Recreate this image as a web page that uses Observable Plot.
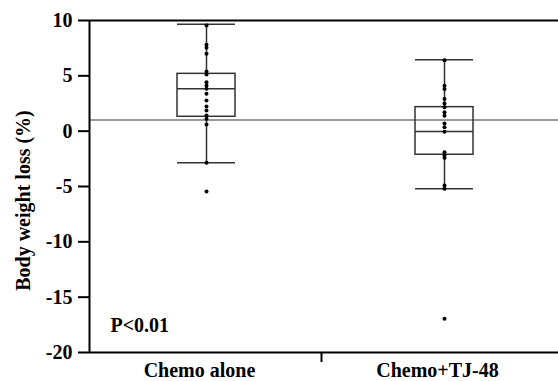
<!DOCTYPE html>
<html>
<head>
<meta charset="utf-8">
<script src="https://cdn.jsdelivr.net/npm/d3@7"></script>
<script src="https://cdn.jsdelivr.net/npm/@observablehq/plot@0.6"></script>
<style>
  html, body { margin: 0; padding: 0; background: #fff; }
  #chart svg text { font-weight: bold; font-family: 'Times New Roman', 'Liberation Serif', serif; }
  #note { position: absolute; left: 100px; top: 30px; font: 10px monospace; color: #fff; white-space: pre; }
</style>
</head>
<body>
<div id="chart"></div>
<div id="note"></div>
<script>
const categories = ["Chemo alone", "Chemo+TJ-48"];
const whiskerLow = [-2.85, -5.2];
const q1 = [1.3, -2.13];
const median = [3.83, -0.03];
const q3 = [5.18, 2.17];
const whiskerHigh = [9.67, 6.45];
const chemoAloneValues = [9.55, 7.8, 7.53, 7.0, 5.4, 5.12, 4.43, 4.13, 3.83, 3.38, 2.77, 2.23, 1.87, 1.42, 1.12, 0.6, -2.86, -5.45];
const chemoTJ48Values = [6.4, 4.1, 3.8, 2.9, 2.5, 2.17, 1.7, 1.4, 0.7, 0.36, -0.05, -1.9, -2.2, -2.4, -4.9, -5.2, -16.95];
const referenceLine = [1];
const yTicks = [10, 5, 0, -5, -10, -15, -20];
const yDomain = [-20, 10];
const yLabel = "Body weight loss (%)";
const pLabel = ["P<0.01"];

const boxes = categories.map((c, i) => ({
  cat: c, lo: whiskerLow[i], q1: q1[i], med: median[i], q3: q3[i], hi: whiskerHigh[i]
}));
const points = [
  ...chemoAloneValues.map(v => ({cat: categories[0], v})),
  ...chemoTJ48Values.map(v => ({cat: categories[1], v}))
];

const boxStroke = "#333";
const inset = 90;
const fs = 20;

const chart = Plot.plot({
  width: 558, height: 381, marginLeft: 89, marginRight: 0, marginTop: 20, marginBottom: 29,
  x: {type: "band", domain: categories, range: [87, 563], padding: 0, axis: null},
  y: {domain: yDomain, axis: null},
  marks: [
    Plot.ruleY(referenceLine, {stroke: "#777", strokeWidth: 1.5}),
    Plot.barY(boxes, {x: "cat", y1: "q1", y2: "q3", fill: "none", stroke: boxStroke, strokeWidth: 1.5, insetLeft: inset, insetRight: inset}),
    Plot.tickY(boxes, {x: "cat", y: "med", stroke: boxStroke, strokeWidth: 1.5, insetLeft: inset, insetRight: inset}),
    Plot.tickY(boxes, {x: "cat", y: "hi", stroke: boxStroke, strokeWidth: 1.5, insetLeft: inset, insetRight: inset}),
    Plot.tickY(boxes, {x: "cat", y: "lo", stroke: boxStroke, strokeWidth: 1.5, insetLeft: inset, insetRight: inset}),
    Plot.ruleX(boxes, {x: "cat", y1: "q3", y2: "hi", stroke: boxStroke, strokeWidth: 1.5}),
    Plot.ruleX(boxes, {x: "cat", y1: "lo", y2: "q1", stroke: boxStroke, strokeWidth: 1.5}),
    Plot.dot(points, {x: "cat", y: "v", r: 2, fill: "#000", stroke: "none"}),
    Plot.ruleY(yDomain, {stroke: "#000", strokeWidth: 2}),
    Plot.ruleX([categories[0]], {y1: yDomain[0], y2: yDomain[1], dx: -117, stroke: "#000", strokeWidth: 2}),
    Plot.axisY({ticks: yTicks, tickSize: 11, tickPadding: 6, fontSize: fs, stroke: "#000", strokeWidth: 2, label: null, tickFormat: d => String(d)}),
    Plot.axisX({tickSize: 0, tickPadding: 10, fontSize: fs, dx: -7, label: null}),
    Plot.axisX([categories[0]], {tickSize: 10, dx: 115, stroke: "#000", strokeWidth: 2, tickFormat: () => "", label: null}),
    Plot.text([yLabel], {frameAnchor: "left", rotate: -90, dx: -66, dy: 14, fontSize: fs, fill: "#000", lineAnchor: "middle", textAnchor: "middle"}),
    Plot.text(pLabel, {frameAnchor: "bottom-left", dx: 21, dy: -27, fontSize: fs, fill: "#000", textAnchor: "start", lineAnchor: "middle"})
  ]
});
document.getElementById("chart").appendChild(chart);
let n = 0;
chart.querySelectorAll("g, rect, line, path").forEach(el => { const b = el.getBBox(); if (b.x + b.width > 540) n++; });
document.getElementById("note").textContent = " ";
</script>
</body>
</html>
